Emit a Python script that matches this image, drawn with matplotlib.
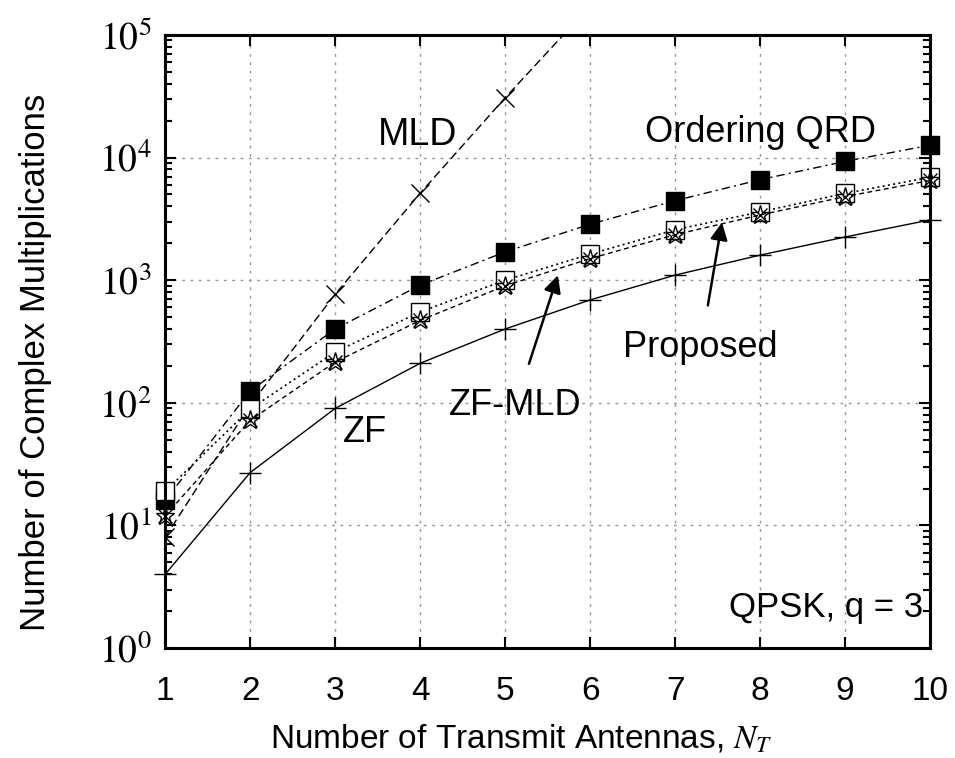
import numpy as np
import matplotlib
matplotlib.use("Agg")
from matplotlib import pyplot as plt
from matplotlib.ticker import FixedLocator, LogLocator, NullFormatter

plt.rcParams['font.family'] = ['Liberation Sans', 'DejaVu Sans']
plt.rcParams['mathtext.fontset'] = 'stix'

nt = [1, 2, 3, 4, 5, 6, 7, 8, 9, 10]
zf = [4, 27, 90, 210, 400, 690, 1100, 1600, 2250, 3100]
mld = [8, 96, 768, 5120, 30720, 172000, None, None, None, None]
ord_qrd = [16, 125, 400, 910, 1700, 2860, 4450, 6600, 9300, 12600]
proposed = [19, 89, 260, 550, 1000, 1630, 2580, 3600, 5100, 6900]
zf_mld = [12, 72, 215, 470, 900, 1500, 2350, 3400, 4800, 6500]

fig = plt.figure(figsize=(9.55, 7.58), dpi=100)
ax = fig.add_axes([0.173, 0.145, 0.801, 0.809])

mld_x = [n for n, v in zip(nt, mld) if v is not None]
mld_y = [v for v in mld if v is not None]

ax.plot(nt, zf, color='black', lw=1.0, ls='-', marker='+', ms=16, mew=1.0, clip_on=False)
ax.plot(mld_x, mld_y, color='black', lw=1.0, ls=(0, (6, 3)), marker='x', ms=13, mew=1.0)
ax.plot(nt, ord_qrd, color='black', lw=1.0, ls=(0, (6, 3, 1.5, 3)), marker='s', ms=13,
        mfc='black', mec='black', clip_on=False)
ax.plot(nt, proposed, color='black', lw=1.2, ls=(0, (1.2, 2)), marker='s', ms=13,
        mfc='white', mec='black', mew=1.0, clip_on=False)
ax.plot(nt, zf_mld, color='black', lw=1.0, ls=(0, (3.5, 2.5)), marker='*', ms=14,
        mfc='none', mec='black', mew=1.0, clip_on=False)
ax.plot(nt, zf_mld, ls='none', marker='x', ms=10, mec='black', mew=1.0, clip_on=False)

ax.set_yscale('log')
ax.set_xlim(1, 10)
ax.set_ylim(1, 1e5)
ax.set_xticks(nt)
ax.yaxis.set_major_locator(FixedLocator([1, 10, 100, 1e3, 1e4, 1e5]))
ax.set_yticklabels([r'$10^{%d}$' % k for k in range(6)], fontsize=27)
ax.yaxis.set_minor_locator(LogLocator(base=10, subs=np.arange(2, 10)))
ax.yaxis.set_minor_formatter(NullFormatter())
ax.tick_params(axis='x', labelsize=24, pad=20)
ax.tick_params(axis='y', pad=10)
ax.tick_params(which='both', direction='in', top=True, right=True, width=1.5)
ax.tick_params(which='major', length=8)
ax.tick_params(which='minor', length=5)
for s in ax.spines.values():
    s.set_linewidth(2.2)

ax.grid(True, which='major', color='#999999', ls=(0, (2, 4)), lw=1.0)

ax.set_xlabel(r'Number of Transmit Antennas, $N_T$', fontsize=24)
ax.set_ylabel('Number of Complex Multiplications', fontsize=25)
ax.xaxis.set_label_coords(0.465, -0.122)
ax.yaxis.set_label_coords(-0.148, 0.466)

ax.text(3.97, 10**4.18, 'MLD', fontsize=27, ha='center', va='center')
ax.text(8.0, 10**4.2, 'Ordering QRD', fontsize=26, ha='center', va='center')
ax.text(3.35, 10**1.76, 'ZF', fontsize=26, ha='center', va='center')
ax.annotate('ZF-MLD', xy=(5.62, 10**3.04), xytext=(5.12, 10**1.98), fontsize=26,
            ha='center', va='center',
            arrowprops=dict(arrowstyle='-|>', color='black', lw=1.8, mutation_scale=26,
                            shrinkA=16, shrinkB=0))
ax.annotate('Proposed', xy=(7.55, 10**3.47), xytext=(7.3, 10**2.45), fontsize=26,
            ha='center', va='center',
            arrowprops=dict(arrowstyle='-|>', color='black', lw=1.8, mutation_scale=26,
                            shrinkA=16, shrinkB=0))
ax.text(9.92, 10**0.33, 'QPSK, q = 3', fontsize=25, ha='right', va='center')

fig.savefig('out.png', dpi=100)
